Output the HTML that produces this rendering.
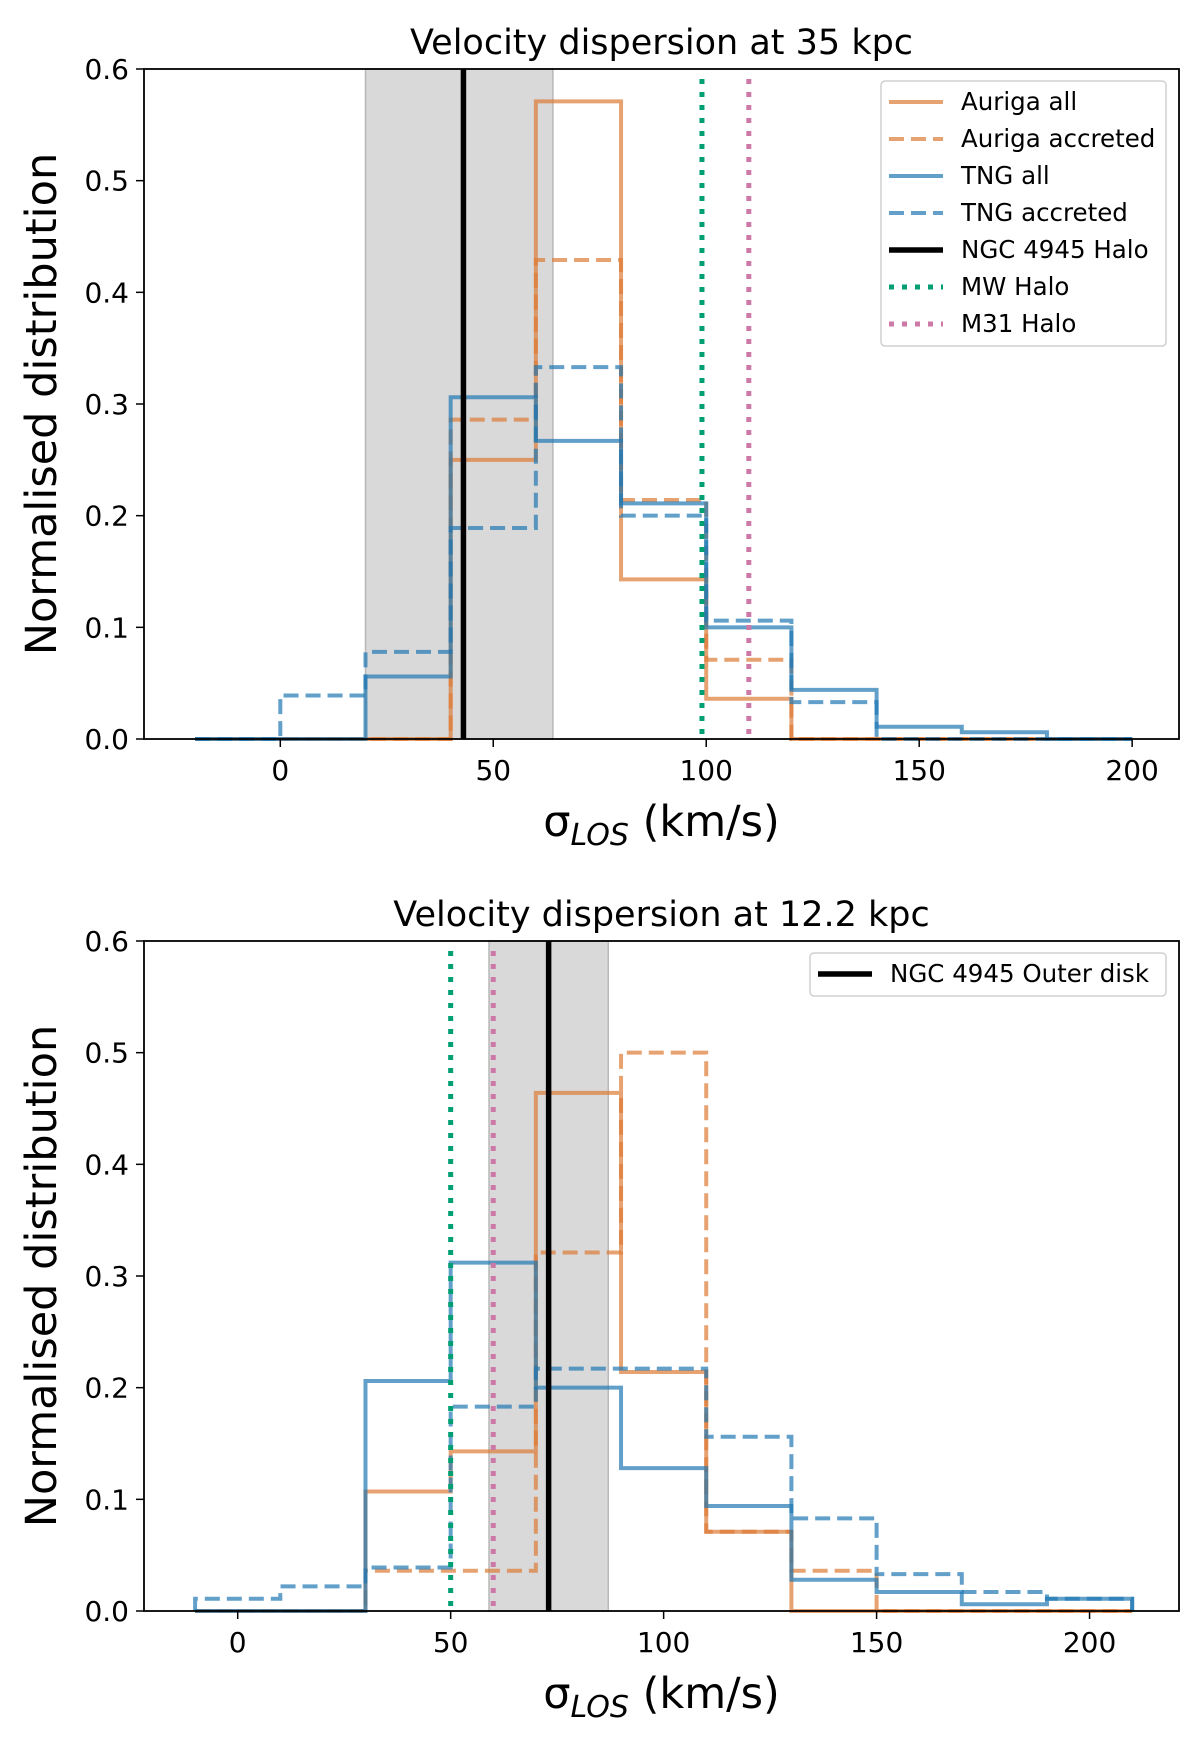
<!DOCTYPE html>
<html><head><meta charset="utf-8"><style>
html,body{margin:0;padding:0;background:#fff;}
svg{display:block;font-family:"DejaVu Sans","Liberation Sans",sans-serif;}
</style></head><body>
<svg id="fig" width="1200" height="1738" viewBox="0 0 1200 1738" xmlns="http://www.w3.org/2000/svg"></svg>
<script>
// ---- Panel 1 data (35 kpc) ----
const edges1 = [-20,0,20,40,60,80,100,120,140,160,180,200];
const aurAll1 = [0,0,0,0.25,0.571,0.143,0.036,0,0,0,0];
const aurAcc1 = [0,0,0,0.286,0.429,0.214,0.071,0,0,0,0];
const tngAll1 = [0,0,0.056,0.306,0.267,0.211,0.1,0.044,0.011,0.006,0];
const tngAcc1 = [0,0.039,0.078,0.189,0.333,0.2,0.106,0.033,0,0,0];
const ngc1 = 43, band1 = [20,64], mw1 = 99, m31_1 = 110;
// ---- Panel 2 data (12.2 kpc) ----
const edges2 = [-10,10,30,50,70,90,110,130,150,170,190,210];
const aurAll2 = [0,0,0.107,0.143,0.464,0.214,0.071,0,0,0,0];
const aurAcc2 = [0,0,0.036,0.036,0.321,0.5,0.071,0.036,0,0,0];
const tngAll2 = [0,0,0.206,0.312,0.2,0.128,0.094,0.028,0.017,0.006,0.011];
const tngAcc2 = [0.011,0.022,0.039,0.183,0.217,0.217,0.156,0.083,0.033,0.017,0.011];
const ngc2 = 73, band2 = [59,87], mw2 = 50, m31_2 = 60;
const xTicks = [0,50,100,150,200];
const yTicks = [0,0.1,0.2,0.3,0.4,0.5,0.6];

const NS="http://www.w3.org/2000/svg";
const svg=document.getElementById('fig');
function mk(tag,attrs,parent){const e=document.createElementNS(NS,tag);for(const k in attrs)e.setAttribute(k,attrs[k]);(parent||svg).appendChild(e);return e;}
const ORANGE="#dd7a36", BLUE="#1f77b4";
const SW=4, DASH='15,7';

function panel(o){
  const g=mk('g',{});
  
  
  const L=144,R=1179,T=o.top,B=o.top+670;
  const sx=v=>L+(v-o.xmin)/(o.xmax-o.xmin)*(R-L);
  const sy=v=>B-(v/0.6)*(B-T);
  const band=mk('rect',{x:sx(o.band[0]),y:T,width:sx(o.band[1])-sx(o.band[0]),height:B-T,fill:'#d9d9d9',stroke:'#b8b8b8','stroke-width':1.5},g);
  
  
  function hist(vals,color,dash,name){
    let d=`M${sx(o.edges[0])},${sy(0)}`;
    vals.forEach((v,i)=>{d+=` V${sy(v)} H${sx(o.edges[i+1])}`;});
    d+=` V${sy(0)}`;
    const p=mk('path',{d:d,fill:'none',stroke:color,'stroke-width':SW,'stroke-opacity':0.7,'stroke-dasharray':dash||'none'},g);
    
    
  }
  hist(o.aurAll,ORANGE,null,'auriga-all-hist');
  hist(o.aurAcc,ORANGE,DASH,'auriga-accreted-hist');
  hist(o.tngAll,BLUE,null,'tng-all-hist');
  hist(o.tngAcc,BLUE,DASH,'tng-accreted-hist');
  const n=mk('line',{x1:sx(o.ngc),x2:sx(o.ngc),y1:T,y2:B,stroke:'#000','stroke-width':5.5},g);
  
  
  const mw=mk('line',{x1:sx(o.mw),x2:sx(o.mw),y1:T+10,y2:B,stroke:'#009e73','stroke-width':5,'stroke-dasharray':'5,8'},g);
  
  
  const m31=mk('line',{x1:sx(o.m31),x2:sx(o.m31),y1:T+10,y2:B,stroke:'#cc79a7','stroke-width':5,'stroke-dasharray':'5,8'},g);
  
  
  const fr=mk('rect',{x:L,y:T,width:R-L,height:B-T,fill:'none',stroke:'#000','stroke-width':1.8},g);
  
  
  xTicks.forEach(t=>{
    mk('line',{x1:sx(t),x2:sx(t),y1:B,y2:B+8,stroke:'#000','stroke-width':1.5},g);
    const tx=mk('text',{x:sx(t),y:B+41,'font-size':28,'text-anchor':'middle'},g);
    tx.textContent=t;
    
    
  });
  yTicks.forEach(t=>{
    mk('line',{x1:L-8,x2:L,y1:sy(t),y2:sy(t),stroke:'#000','stroke-width':1.5},g);
    const ty=mk('text',{x:L-15,y:sy(t)+10,'font-size':28,'text-anchor':'end'},g);
    ty.textContent=t.toFixed(1);
    
    
  });
  const ti=mk('text',{x:(L+R)/2,y:T-15,'font-size':35,'text-anchor':'middle'},g);
  ti.textContent=o.title;
  
  
  const xl=mk('text',{x:(L+R)/2,y:B+97,'font-size':43,'text-anchor':'middle'},g);
  xl.innerHTML='σ<tspan font-style="italic" font-size="30" dy="9">LOS</tspan><tspan dy="-9"> (km/s)</tspan>';
  
  
  const yl=mk('text',{x:0,y:0,'font-size':43,'text-anchor':'middle',transform:`translate(56,${(T+B)/2}) rotate(-90)`},g);
  yl.textContent='Normalised distribution';
  
  
  const lg=mk('g',{},g);
  
  
  const lx=o.legend.x, ly=T+12;
  const h=o.legend.items.length*37+6;
  mk('rect',{x:lx,y:ly,width:1166-lx,height:h,rx:4,fill:'#fff','fill-opacity':0.8,stroke:'#d0d0d0','stroke-width':1.5},lg);
  o.legend.items.forEach((it,i)=>{
    const yy=ly+21+i*37;
    const ln=mk('line',{x1:lx+8,x2:lx+62,y1:yy,y2:yy,stroke:it.c,'stroke-width':it.w||SW,'stroke-opacity':it.op||1,'stroke-dasharray':it.d||'none'},lg);
    
    
    const t=mk('text',{x:lx+80,y:yy+8,'font-size':24.5},lg);
    t.textContent=it.t;
    
    
  });
}
panel({name:'panel-35kpc',top:69,xmin:-32,xmax:211,edges:edges1,aurAll:aurAll1,aurAcc:aurAcc1,tngAll:tngAll1,tngAcc:tngAcc1,ngc:ngc1,band:band1,mw:mw1,m31:m31_1,title:'Velocity dispersion at 35 kpc',
 legend:{x:881,items:[
  {t:'Auriga all',c:ORANGE,op:0.7},{t:'Auriga accreted',c:ORANGE,op:0.7,d:DASH},
  {t:'TNG all',c:BLUE,op:0.7},{t:'TNG accreted',c:BLUE,op:0.7,d:DASH},
  {t:'NGC 4945 Halo',c:'#000',w:5.5},{t:'MW Halo',c:'#009e73',w:5,d:'5,8'},{t:'M31 Halo',c:'#cc79a7',w:5,d:'5,8'}]}});
panel({name:'panel-12kpc',top:941,xmin:-22,xmax:221,edges:edges2,aurAll:aurAll2,aurAcc:aurAcc2,tngAll:tngAll2,tngAcc:tngAcc2,ngc:ngc2,band:band2,mw:mw2,m31:m31_2,title:'Velocity dispersion at 12.2 kpc',
 legend:{x:810,items:[{t:'NGC 4945 Outer disk',c:'#000',w:5.5}]}});
</script>
</body></html>
